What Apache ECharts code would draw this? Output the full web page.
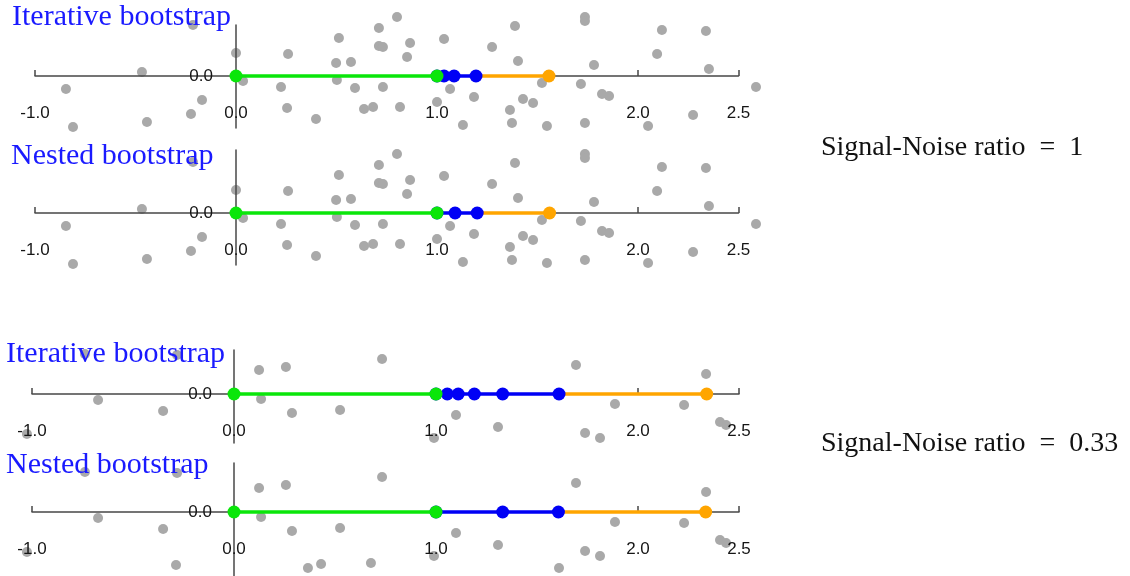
<!DOCTYPE html>
<html><head><meta charset="utf-8">
<script src="https://cdn.jsdelivr.net/npm/echarts@6/dist/echarts.min.js"></script>
<style>html,body{margin:0;padding:0;background:#fff}#c{width:1130px;height:576px}</style>
</head><body><div id="c"></div>
<script>
// ---------- data ----------
const xTickValues = [-1, 0, 1, 2, 2.5];
const yTickValues = [0];
const panelTitles = ['Iterative bootstrap', 'Nested bootstrap', 'Iterative bootstrap', 'Nested bootstrap'];
const ratioLabels = ['Signal-Noise ratio  =  1', 'Signal-Noise ratio  =  0.33'];

// background noise points, signal-noise ratio = 1
const noiseA_x = [-0.214, 0.0, 0.259, 0.512, 0.711, 0.711, 0.731, 0.498, 0.572, -0.468,
  -0.846, 0.035, 0.224, 0.502, 0.592, -0.169, -0.224, 0.254, 0.637, 0.682,
  -0.443, 0.398, -0.811, 0.801, 0.866, 0.851, 1.035, 1.388, 1.736, 1.736,
  1.274, 1.403, 1.781, 2.095, 2.119, 2.338, 2.353, 0.731, 1.065, 1.184,
  1.522, 1.716, 1.821, 1.856, 2.587, 0.816, 1.0, 1.428, 1.478, 1.363,
  2.274, 1.129, 1.373, 1.547, 1.736, 2.050];
const noiseA_y = [1.02, 0.46, 0.44, 0.76, 0.96, 0.60, 0.58, 0.26, 0.28, 0.08,
  -0.26, -0.10, -0.22, -0.08, -0.24, -0.48, -0.76, -0.64, -0.66, -0.62,
  -0.92, -0.86, -1.02, 1.18, 0.66, 0.38, 0.74, 1.00, 1.18, 1.10,
  0.58, 0.30, 0.22, 0.44, 0.92, 0.90, 0.14, -0.22, -0.26, -0.42,
  -0.14, -0.16, -0.36, -0.40, -0.22, -0.62, -0.52, -0.46, -0.54, -0.68,
  -0.78, -0.98, -0.94, -1.00, -0.94, -1.00];

// background noise points, signal-noise ratio = 0.33
const noiseB_x = [-0.738, -0.282, 0.515, 1.455, 0.124, 0.257, 0.733, 1.693, 2.337, -0.673,
  0.134, -0.351, 0.287, 0.525, 1.886, 2.228, 1.099, 1.307, 2.406, 2.436,
  -1.025, 1.738, 1.812, 0.990, -0.287, 0.366, 0.431, 0.678, 1.609];
const noiseB_y = [0.80, 0.78, 1.00, 1.00, 0.48, 0.54, 0.70, 0.58, 0.40, -0.12,
  -0.10, -0.34, -0.38, -0.32, -0.20, -0.22, -0.42, -0.66, -0.56, -0.62,
  -0.80, -0.78, -0.88, -0.88, -1.06, -1.12, -1.04, -1.02, -1.12];

// path points along y = 0
const iterA_green = [0, 1.0];
const iterA_blue = [1.0, 1.035, 1.085, 1.194];
const iterA_orange = [1.194, 1.557];
const nestA_green = [0, 1.0];
const nestA_blue = [1.0, 1.09, 1.20];
const nestA_orange = [1.20, 1.56];
const iterB_green = [0, 1.0];
const iterB_blue = [1.0, 1.056, 1.110, 1.190, 1.330, 1.609];
const iterB_orange = [1.609, 2.340];
const nestB_green = [0, 1.0];
const nestB_blue = [1.0, 1.330, 1.606];
const nestB_orange = [1.606, 2.335];

// ---------- layout / style ----------
const AXIS_MIN = -1, AXIS_MAX = 2.5;
const NOISE_MIN = -1.1, NOISE_MAX = 2.65;
const Y_UNIT = 50; // px per noise unit
const layouts = [
  {x0: 236, unit: 201, y0: 76, top: 15, bottom: 128, axisTop: 25, titleY: 17, xLabelMargin: -23, yLabelRight: 213},
  {x0: 236, unit: 201, y0: 213, top: 150, bottom: 265, axisTop: 150, titleY: 156, xLabelMargin: -23, yLabelRight: 213},
  {x0: 234, unit: 202, y0: 394, top: 350, bottom: 443, axisTop: 350, titleY: 354, xLabelMargin: -20, yLabelRight: 212},
  {x0: 234, unit: 202, y0: 512, top: 463, bottom: 576, axisTop: 463, titleY: 465.5, xLabelMargin: -35, yLabelRight: 212}
];
const titleX = [12, 11, 6, 6];
const C_GREEN = '#0ae60a', C_BLUE = '#0000f5', C_ORANGE = '#ffa500', C_NOISE = '#a9a9a9', C_AXIS = '#474747';

const panels = [
  {noiseX: noiseA_x, noiseY: noiseA_y, green: iterA_green, blue: iterA_blue, orange: iterA_orange},
  {noiseX: noiseA_x, noiseY: noiseA_y, green: nestA_green, blue: nestA_blue, orange: nestA_orange},
  {noiseX: noiseB_x, noiseY: noiseB_y, green: iterB_green, blue: iterB_blue, orange: iterB_orange},
  {noiseX: noiseB_x, noiseY: noiseB_y, green: nestB_green, blue: nestB_blue, orange: nestB_orange}
];

const grid = [], xAxis = [], yAxis = [], series = [], graphic = [];
const fmt = v => Number(v).toFixed(1);

function pathSeries(vals, color, gi, z, hideFirst) {
  return {
    type: 'line', xAxisIndex: gi, yAxisIndex: gi, z: z, silent: true,
    data: vals.map(v => [v, 0]),
    symbol: 'circle', showSymbol: true, showAllSymbol: true,
    symbolSize: (val, params) => (hideFirst && params.dataIndex === 0) ? 0 : 13,
    itemStyle: {color: color}, lineStyle: {color: color, width: 3.5},
    emphasis: {disabled: true}, animation: false, clip: false
  };
}

panels.forEach((p, i) => {
  const L = layouts[i];
  const ga = 2 * i, gn = 2 * i + 1;
  const axisLeft = L.x0 + AXIS_MIN * L.unit;
  const yMin = -(L.bottom - L.y0) / Y_UNIT;
  const yMaxNoise = (L.y0 - L.top) / Y_UNIT;
  const yMaxAxis = (L.y0 - L.axisTop) / Y_UNIT;
  grid.push({left: axisLeft, width: (AXIS_MAX - AXIS_MIN) * L.unit, top: L.axisTop, height: L.bottom - L.axisTop, outerBoundsMode: 'none', containLabel: false});
  grid.push({left: L.x0 + NOISE_MIN * L.unit, width: (NOISE_MAX - NOISE_MIN) * L.unit, top: L.top, height: L.bottom - L.top, outerBoundsMode: 'none', containLabel: false});
  xAxis.push({
    gridIndex: ga, type: 'value', min: AXIS_MIN, max: AXIS_MAX, z: 3,
    axisLine: {show: true, onZero: true, lineStyle: {color: C_AXIS, width: 1.5}},
    axisTick: {show: true, inside: true, length: 6, customValues: xTickValues, lineStyle: {color: C_AXIS, width: 1.5}},
    axisLabel: {show: true, customValues: xTickValues, formatter: fmt, margin: L.xLabelMargin, fontSize: 17, color: '#151515', fontFamily: 'Liberation Sans', showMinLabel: true, showMaxLabel: true, hideOverlap: false},
    splitLine: {show: false}
  });
  xAxis.push({gridIndex: gn, type: 'value', min: NOISE_MIN, max: NOISE_MAX, show: false, splitLine: {show: false}});
  yAxis.push({
    gridIndex: ga, type: 'value', min: yMin, max: yMaxAxis, z: 3,
    axisLine: {show: true, onZero: true, lineStyle: {color: C_AXIS, width: 1.5}},
    axisTick: {show: false},
    axisLabel: {show: true, customValues: yTickValues, formatter: fmt, margin: axisLeft - L.yLabelRight, fontSize: 17, color: '#151515', fontFamily: 'Liberation Sans'},
    splitLine: {show: false}
  });
  yAxis.push({gridIndex: gn, type: 'value', min: yMin, max: yMaxNoise, show: false, splitLine: {show: false}});

  series.push({
    type: 'scatter', xAxisIndex: gn, yAxisIndex: gn, z: 1, silent: true, animation: false,
    data: p.noiseX.map((x, k) => [x, p.noiseY[k]]),
    symbolSize: 10, itemStyle: {color: C_NOISE, opacity: 1}, clip: true
  });
  series.push(pathSeries(p.orange, C_ORANGE, ga, 4, true));
  series.push(pathSeries(p.blue, C_BLUE, ga, 5, false));
  series.push(pathSeries(p.green, C_GREEN, ga, 6, false));

  graphic.push({
    type: 'text', x: titleX[i], y: L.titleY, z: 10,
    style: {text: panelTitles[i], fill: '#1a1aff', font: '30px "Liberation Serif"', textAlign: 'left', textVerticalAlign: 'middle', align: 'left', verticalAlign: 'middle'}
  });
});

const ratioY = [148, 443.5];
ratioLabels.forEach((t, k) => {
  graphic.push({
    type: 'text', x: 821, y: ratioY[k], z: 10,
    style: {text: t, fill: '#111', font: '28px "Liberation Serif"', textAlign: 'left', textVerticalAlign: 'middle', align: 'left', verticalAlign: 'middle'}
  });
});

const chart = echarts.init(document.getElementById('c'), null, {renderer: 'canvas'});
chart.setOption({
  backgroundColor: '#ffffff',
  animation: false,
  grid: grid, xAxis: xAxis, yAxis: yAxis, series: series, graphic: graphic,
  tooltip: {show: false}
});
</script>
</body></html>
